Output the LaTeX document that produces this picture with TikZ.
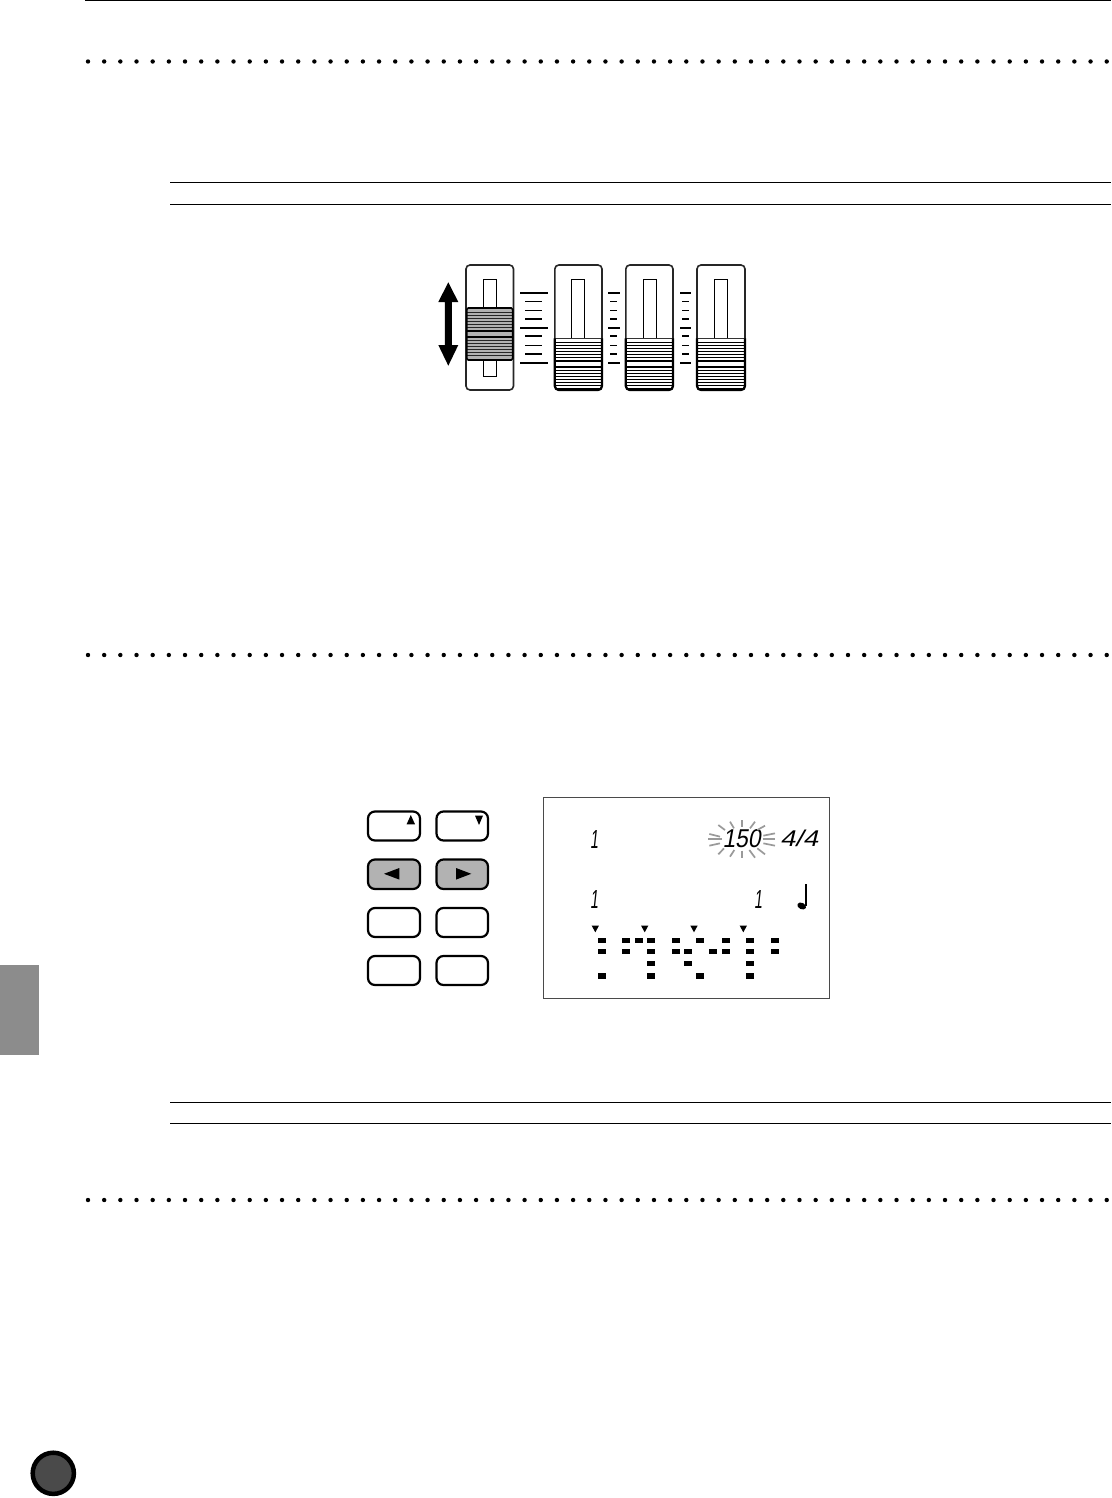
\documentclass[tikz,border=0pt]{standalone}
\usepackage{fontspec}
\newfontfamily\lcdfont[FakeSlant=0.2]{Liberation Sans}
\definecolor{tabgray}{HTML}{8C8C8C}
\definecolor{knobgray}{HTML}{B2B2B2}
\definecolor{btngray}{HTML}{B2B2B2}
\definecolor{discgray}{HTML}{4A4A4A}
\definecolor{raygray}{HTML}{9A9A9A}
\definecolor{lcdedge}{HTML}{4A4A4A}
\tikzset{
  rulerline/.style={line width=1pt,black},
  dotmark/.style={fill=black,draw=none},
  faderbody/.style={draw=black!85,fill=white,line width=1.6pt,rounded corners=4pt},
  slotbox/.style={draw=black,fill=white,line width=1pt},
  longtick/.style={line width=2pt,black},
  thicktick/.style={line width=1.9pt,black},
  thintick/.style={line width=1pt,black},
  keybtn/.style={draw=black,line width=2.2pt,rounded corners=7pt,fill=white},
  keybtnon/.style={draw=black,line width=2.2pt,rounded corners=7pt,fill=btngray},
  lcdblock/.style={fill=black,draw=none},
  ray/.style={draw=raygray,line width=1.7pt},
  lcdtext/.style={inner sep=0pt,outer sep=0pt,text=black,font=\lcdfont\fontsize{24}{24}\selectfont}
}
\begin{document}
\begin{tikzpicture}[x=1pt,y=-1pt]
\useasboundingbox (0,0) rectangle (1111,1498);
\fill[white] (0,0) rectangle (1111,1498);
% page furniture
\draw[line width=2pt,black] (85,0) -- (1111,0);
\foreach \yy in {61.5,655,1200}{
  \foreach \i in {0,...,63}{
    \fill[dotmark] ({88+16.17*\i},\yy) circle (2.2);
  }
}
\foreach \yy in {182.5,204.5,1102,1123.5}{
  \draw[rulerline] (170,\yy) -- (1111,\yy);
}
\fill[tabgray] (0,965) rectangle (39,1055);
\draw[draw=black,fill=discgray,line width=4.5pt] (53.3,1473.3) circle (20.6);
% double arrow
\fill[black] (448.3,282.3) -- (458.3,302) -- (451.8,302) -- (451.8,345) -- (458.3,345)
  -- (448.3,365.7) -- (438.3,345) -- (444.8,345) -- (444.8,302) -- (438.3,302) -- cycle;
% first fader (raised knob)
\draw[faderbody] (466,265) rectangle (513.5,390);
\draw[slotbox] (483.3,279.3) rectangle (496.7,376.7);
\fill[knobgray,rounded corners=1.5pt] (466.8,308) rectangle (512.7,360);
\foreach \yy in {312.7,315.7,318.7,321.7,324.3,327.3,340.7,343.7,346.7,349.7,352.3,355.3}{
  \draw[line width=1pt,black!85] (467,\yy) -- (512.5,\yy);
}
\draw[line width=1.7pt,black] (467,331) -- (512.5,331);
\draw[line width=1.7pt,black] (467,337.3) -- (512.5,337.3);
\draw[line width=1.6pt,black,rounded corners=1.5pt] (466.8,308) rectangle (512.7,360);
% other faders (lowered knob)
\foreach \xa/\xb/\sa/\sb in {554.8/602/571.3/584.3,625.8/673/643.3/656.7,697/745/714.3/727.7}{
  \draw[faderbody] (\xa,265) rectangle (\xb,390);
  \draw[slotbox] (\sa,279.3) rectangle (\sb,338.3);
  \foreach \yy in {342,345,348,351,354,357,370,373,376,379,382,385,388}{
    \draw[line width=1pt,black] (\xa,\yy) -- (\xb,\yy);
  }
  \draw[line width=1.8pt,black] (\xa,360.7) -- (\xb,360.7);
  \draw[line width=1.8pt,black] (\xa,366.7) -- (\xb,366.7);
  \draw[line width=1pt,black!80] (\xa,338.3) -- (\xb,338.3);
  \draw[line width=2.2pt,black,rounded corners=4pt] (\xa,338.3) -- (\xa,390) -- (\xb,390) -- (\xb,338.3);
}
% scale ticks
\foreach \la/\lb/\sa/\sb in {520/548/525/542,608/620/610/617,680/691/682/689}{
  \foreach \yy in {292.7,327.7,362.7}{\draw[longtick] (\la,\yy) -- (\lb,\yy);}
  \foreach \yy in {318.9,336.4,353.9}{\draw[thicktick] (\sa,\yy) -- (\sb,\yy);}
  \foreach \yy in {301.4,310.2,345.2}{\draw[thintick] (\sa,\yy) -- (\sb,\yy);}
}
% buttons
\draw[keybtn] (368,811.5) rectangle (420,840.5);
\draw[keybtn] (436.5,811.5) rectangle (488,840.5);
\draw[keybtnon] (368,859.5) rectangle (420,889);
\draw[keybtnon] (436.5,859.5) rectangle (488,889);
\draw[keybtn] (368,908) rectangle (420,937);
\draw[keybtn] (436.5,908) rectangle (488,937);
\draw[keybtn] (368,956) rectangle (420,985);
\draw[keybtn] (436.5,956) rectangle (488,985);
\fill[black] (410.8,815) -- (415,824.3) -- (406.6,824.3) -- cycle;
\fill[black] (479,825) -- (483,815.6) -- (475,815.6) -- cycle;
\fill[black] (384,873.8) -- (399.3,868) -- (399.3,879.6) -- cycle;
\fill[black] (471.3,873.8) -- (456,868) -- (456,879.6) -- cycle;
% LCD panel
\draw[draw=lcdedge,fill=white,line width=0.9pt] (543,797) rectangle (829,998);
% LCD characters
\node[lcdtext,anchor=south west] (one-a) at (590,848) {\resizebox{8pt}{18pt}{1}};
\node[lcdtext,anchor=south west] (one-b) at (590,908.5) {\resizebox{8pt}{18pt}{1}};
\node[lcdtext,anchor=south west] (one-c) at (754,908.5) {\resizebox{8pt}{18pt}{1}};
\node[lcdtext,anchor=south west] (tempo) at (722.5,848) {\resizebox{38pt}{18pt}{150}};
\node[lcdtext,anchor=south west] (meter) at (780,847) {\resizebox{38pt}{16.5pt}{4/4}};
% flashing rays
\foreach \ax/\ay/\bx/\by in {
  125/15/125/35, 125/107/125/130,
  55/30/75/45, 90/20/102/40, 55/118/72/100, 90/125/103/105,
  28/57/60/65, 25/72/65/72, 28/92/60/85,
  190/62/225/55, 188/72/225/72, 190/85/225/92,
  150/40/165/20, 172/45/195/32, 148/105/165/128, 172/100/195/118}{
  \draw[ray] ({700+\ax/3},{815+\ay/3}) -- ({700+\bx/3},{815+\by/3});
}
% quarter note
\draw[line width=1.8pt,black] (806,884) -- (806,906);
\fill[black,rotate around={-25:(801.7,906)}] (801.7,906) ellipse (4.6 and 3.2);
% beat triangles
\foreach \xx in {595.3,644.7,694,743.3}{
  \fill[black] (\xx,932.3) -- ({\xx+3.6},925.7) -- ({\xx-3.6},925.7) -- cycle;
}
% dot pattern
\foreach \xx/\rows in {602/{940.3,951.7,976},626.3/{940.3,951.7},639/{940.3},651/{940.3,951.7,963.7,976},
  675.7/{940.3,951.7},687.7/{951.7,963.7},700.3/{940.3,976},713.3/{951.7},725.7/{940.3,951.7},
  750/{940.3,951.7,963.7,976},775/{940.3,951.7}}{
  \foreach \yy in \rows {
    \fill[lcdblock] ({\xx-4.1},{\yy-2.7}) rectangle ({\xx+4.1},{\yy+2.7});
  }
}
\end{tikzpicture}
\end{document}
